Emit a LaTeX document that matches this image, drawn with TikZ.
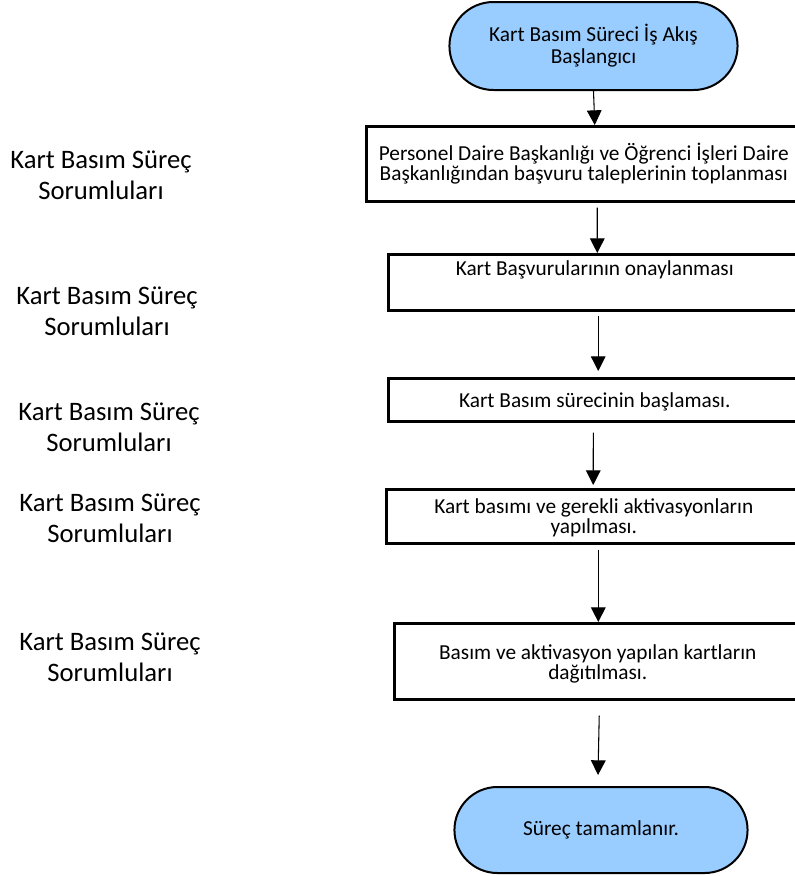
\documentclass[tikz,border=0pt]{standalone}
\usepackage{fontspec}
\setmainfont{Carlito}
\usetikzlibrary{shapes.misc,arrows.meta}
\definecolor{termblue}{RGB}{153,204,255}

\begin{document}
\begin{tikzpicture}[x=0.75pt,y=-0.75pt,
    terminal/.style={rounded rectangle,draw,line width=1.5pt,fill=termblue,align=center,
      font={\fontsize{16pt}{16.5pt}\selectfont}},
    stepbox/.style={rectangle,draw,line width=1.9pt,anchor=north west,align=center,inner ysep=0pt,
      font={\fontsize{16pt}{15pt}\selectfont\lineskiplimit=-20pt}},
    owner/.style={align=center,font={\fontsize{20pt}{23pt}\selectfont}},
    arr/.style={-{Triangle[length=11pt,width=11pt]},line width=0.8pt}]
  \path[use as bounding box,clip] (0,0) rectangle (795,876);
  % flow
  \node[terminal,minimum width=222.75pt,minimum height=66pt] (start) at (593.5,46) {Kart Basım Süreci İş Akış\\Başlangıcı};
  \node[stepbox,minimum width=326.25pt,text height=40.5pt,text depth=15.75pt] (b1) at (365,125)
    {Personel Daire Başkanlığı ve Öğrenci İşleri Daire\\Başkanlığından başvuru taleplerinin toplanması};
  \node[stepbox,minimum width=309.75pt,text height=15.75pt,text depth=26.25pt] (b2) at (387,253) {Kart Başvurularının onaylanması};
  \node[stepbox,minimum width=309.75pt,text height=21.75pt,text depth=10.5pt] (b3) at (387,377) {Kart Basım sürecinin başlaması.};
  \node[stepbox,minimum width=311.25pt,text height=33pt,text depth=7.5pt] (b4) at (385,488)
    {Kart basımı ve gerekli aktivasyonların\\yapılması.};
  \node[stepbox,minimum width=305.25pt,text height=42pt,text depth=15pt] (b5) at (393,622)
    {Basım ve aktivasyon yapılan kartların\\dağıtılması.};
  \node[terminal,minimum width=226.5pt,minimum height=64.5pt] (stop) at (601,830) {Süreç tamamlanır.};
  % owners
  \node[owner] (own1) at (101,175) {Kart Basım Süreç\\Sorumluları};
  \node[owner] (own2) at (107,311) {Kart Basım Süreç\\Sorumluları};
  \node[owner] (own3) at (109,427) {Kart Basım Süreç\\Sorumluları};
  \node[owner] (own4) at (110,518) {Kart Basım Süreç\\Sorumluları};
  \node[owner] (own5) at (110,657) {Kart Basım Süreç\\Sorumluları};
  % arrows
  \draw[arr] (start.south) -- ([xshift=8.25pt]b1.north);
  \draw[arr] ([xshift=10.1pt,yshift=-3.75pt]b1.south) -- ([xshift=1.9pt]b2.north);
  \draw[arr] ([xshift=2.6pt,yshift=-3pt]b2.south) -- ([xshift=2.6pt,yshift=4.5pt]b3.north);
  \draw[arr] ([xshift=-1.1pt,yshift=-7.5pt]b3.south) -- ([xshift=-0.4pt,yshift=2.25pt]b4.north);
  \draw[arr] ([xshift=3.4pt,yshift=-3.75pt]b4.south) -- ([xshift=0.4pt]b5.north);
  \draw[arr] ([xshift=1.1pt,yshift=-11.25pt]b5.south) -- ([xshift=-2.25pt,yshift=8.25pt]stop.north);
\end{tikzpicture}
\end{document}
